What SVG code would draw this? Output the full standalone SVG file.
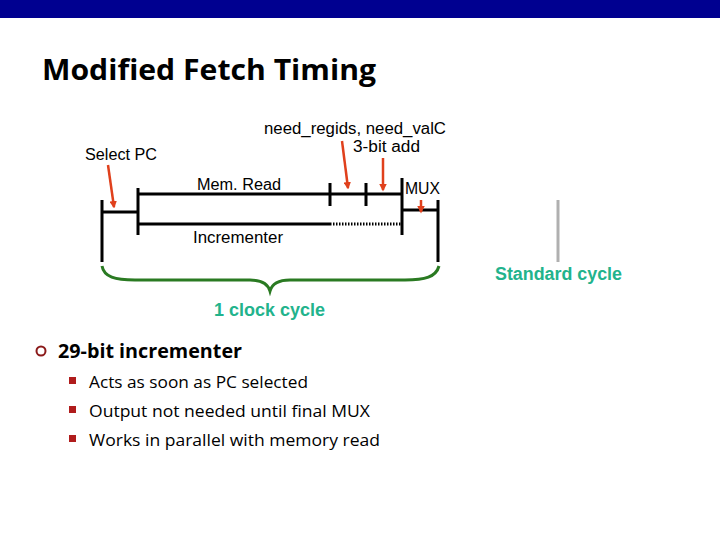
<svg xmlns="http://www.w3.org/2000/svg" width="720" height="540" viewBox="0 0 720 540">
<style>
.lbl{font-family:"Liberation Sans",Arial,sans-serif;font-size:16px;fill:#000}
.grn{font-family:"Liberation Sans",Arial,sans-serif;font-size:17.5px;font-weight:bold;fill:#22b38c}
.tl{stroke:#000;stroke-width:3;fill:none}
.arr{stroke:#e0401c;stroke-width:2.5;fill:none;marker-end:url(#ah)}
.body{font-family:"Open Sans","Liberation Sans",sans-serif;fill:#000}
</style>
<defs>
<marker id="ah" viewBox="0 0 10 10" refX="8" refY="5" markerWidth="3" markerHeight="3" orient="auto"><path d="M0,0L10,5L0,10z" fill="#e0401c"/></marker>
</defs>
<rect x="0" y="0" width="720" height="18" fill="#000090"/>
<text x="42" y="80" font-family="'Open Sans','Liberation Sans',sans-serif" font-weight="bold" font-size="29" textLength="334" lengthAdjust="spacingAndGlyphs" fill="#000">Modified Fetch Timing</text>

<g id="timeline">
<path class="tl" d="M102,200V262M102,212H138M138,188V235M138,194H402M330,183V206M366,183V206M402,178V235M402,210H438M438,200V262M138,224H330"/>
<path d="M330,224H402" stroke="#000" stroke-width="3" stroke-dasharray="1.5,1.5"/>
</g>
<g id="labels">
<text class="lbl" x="85" y="160" textLength="72" lengthAdjust="spacingAndGlyphs">Select PC</text>
<text class="lbl" x="197" y="190" textLength="84" lengthAdjust="spacingAndGlyphs">Mem. Read</text>
<text class="lbl" x="264" y="134" textLength="182" lengthAdjust="spacingAndGlyphs">need_regids, need_valC</text>
<text class="lbl" x="353" y="152" textLength="67" lengthAdjust="spacingAndGlyphs">3-bit add</text>
<text class="lbl" x="405" y="194" textLength="35" lengthAdjust="spacingAndGlyphs">MUX</text>
<text class="lbl" x="193" y="243" textLength="90" lengthAdjust="spacingAndGlyphs">Incrementer</text>
</g>
<g id="connectors">
<path class="arr" d="M108,165L114,207"/>
<path class="arr" d="M342,141L348,188"/>
<path class="arr" d="M383,158L383,190"/>
<path class="arr" d="M421,200L421,212"/>
</g>
<g id="brace">
<path d="M102,266C104,277 115,280 135,280H250C262,280 268,284 270,291C272,284 278,280 290,280H405C425,280 436,277 439,266" stroke="#2a7a22" stroke-width="3" fill="none"/>
<text class="grn" x="214" y="316" textLength="111" lengthAdjust="spacingAndGlyphs">1 clock cycle</text>
</g>
<g id="standard">
<line x1="558" y1="200" x2="558" y2="262" stroke="#b0b0b0" stroke-width="3"/>
<text class="grn" x="495" y="280" textLength="127" lengthAdjust="spacingAndGlyphs">Standard cycle</text>
</g>
<g id="bullets">
<circle cx="41" cy="351" r="4.5" fill="none" stroke="#8b1a1a" stroke-width="2"/>
<text class="body" x="58" y="358" font-size="19" font-weight="bold" textLength="184" lengthAdjust="spacingAndGlyphs">29-bit incrementer</text>
<rect x="69" y="377" width="7" height="7" fill="#b01c1c"/>
<rect x="69" y="406" width="7" height="7" fill="#b01c1c"/>
<rect x="69" y="435" width="7" height="7" fill="#b01c1c"/>
<text class="body" x="89" y="388" font-size="16" textLength="219" lengthAdjust="spacingAndGlyphs">Acts as soon as PC selected</text>
<text class="body" x="89" y="417" font-size="16" textLength="281" lengthAdjust="spacingAndGlyphs">Output not needed until final MUX</text>
<text class="body" x="89" y="446" font-size="16" textLength="291" lengthAdjust="spacingAndGlyphs">Works in parallel with memory read</text>
</g>
</svg>
